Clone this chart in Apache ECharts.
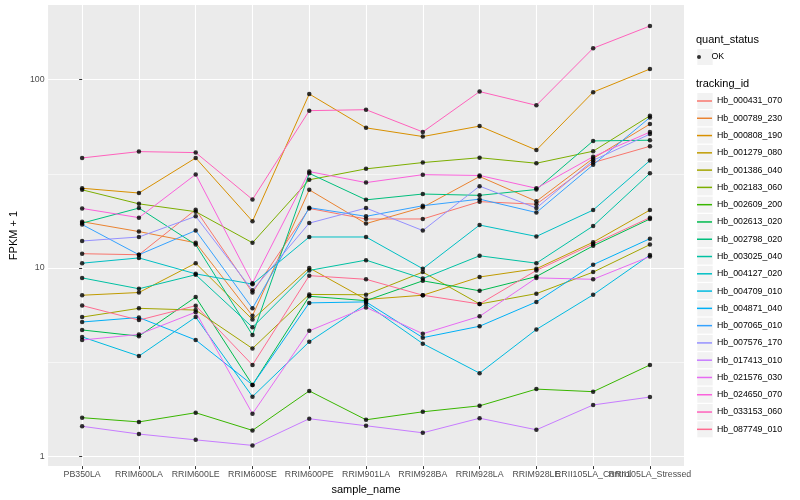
<!DOCTYPE html>
<html><head><meta charset="utf-8">
<script src="https://cdn.jsdelivr.net/npm/echarts@6/dist/echarts.min.js"></script>
<style>html,body{margin:0;padding:0;background:#fff}#c{width:800px;height:500px}</style>
</head><body><div id="c"></div>
<script>
const categories = ['PB350LA','RRIM600LA','RRIM600LE','RRIM600SE','RRIM600PE','RRIM901LA','RRIM928BA','RRIM928LA','RRIM928LE','RRII105LA_Control','RRII105LA_Stressed'];
const yTicks = [1, 10, 100];
const yMinorTicks = [3.162, 31.62];
const trackingIds = ['Hb_000431_070','Hb_000789_230','Hb_000808_190','Hb_001279_080','Hb_001386_040','Hb_002183_060','Hb_002609_200','Hb_002613_020','Hb_002798_020','Hb_003025_040','Hb_004127_020','Hb_004709_010','Hb_004871_040','Hb_007065_010','Hb_007576_170','Hb_017413_010','Hb_021576_030','Hb_024650_070','Hb_033153_060','Hb_087749_010'];
const colors = ['#F8766D','#EA8331','#D89000','#C09B00','#A3A500','#7CAE00','#39B600','#00BB4E','#00BF7D','#00C1A3','#00BFC4','#00BAE0','#00B0F6','#35A2FF','#9590FF','#C77CFF','#E76BF3','#FA62DB','#FF62BC','#FF6C91'];

const hb_000431_070 = [11.9, 11.75, 20.4, 7.4, 20.7, 18.2, 18.2, 22.5, 21.8, 36.3, 44.3];
const hb_000789_230 = [17.6, 15.6, 13.6, 5.57, 26, 17.2, 21.0, 30.6, 22.6, 38.2, 58.1];
const hb_000808_190 = [26.5, 25, 38.4, 17.7, 84, 55.5, 49.9, 56.7, 42.3, 85.9, 114];
const hb_001279_080 = [7.16, 7.4, 10.6, 5.32, 10.0, 6.8, 7.16, 8.95, 9.9, 13.7, 20.3];
const hb_001386_040 = [5.48, 6.1, 5.97, 3.73, 7.23, 7.2, 9.5, 6.43, 7.3, 9.5, 13.3];
const hb_002183_060 = [26, 21.9, 19.9, 13.6, 29.4, 33.6, 36.3, 38.5, 36, 41.7, 64.3];
const hb_002609_200 = [1.6, 1.52, 1.7, 1.37, 2.22, 1.56, 1.72, 1.85, 2.27, 2.2, 3.05];
const hb_002613_020 = [4.68, 4.34, 7.0, 2.39, 7.07, 6.7, 8.54, 7.56, 9.0, 13.1, 18.2];
const hb_002798_020 = [17.3, 20.8, 13.3, 4.4, 31.8, 23, 24.7, 24.3, 26.1, 47.3, 47.7];
const hb_003025_040 = [8.85, 7.75, 9.2, 4.84, 9.7, 11, 8.78, 11.6, 10.6, 16.7, 31.8];
const hb_004127_020 = [10.6, 11.3, 9.3, 8.2, 14.6, 14.6, 9.9, 16.9, 14.7, 20.3, 37.2];
const hb_004709_010 = [4.3, 3.4, 5.48, 2.07, 4.05, 6.43, 3.96, 2.76, 4.71, 7.2, 11.7];
const hb_004871_040 = [5.16, 5.45, 4.14, 2.39, 6.52, 6.6, 4.26, 4.9, 6.6, 10.4, 14.3];
const hb_007065_010 = [17.0, 11.75, 15.8, 6.1, 20.9, 18.8, 21.4, 23.2, 19.7, 35.3, 63];
const hb_007576_170 = [13.9, 14.6, 18.8, 7.6, 17.3, 20.8, 15.8, 27.2, 20.8, 37.3, 51.4];
const hb_017413_010 = [1.44, 1.31, 1.22, 1.14, 1.58, 1.45, 1.33, 1.59, 1.38, 1.87, 2.06];
const hb_021576_030 = [4.14, 4.43, 5.82, 1.68, 4.63, 6.17, 4.47, 5.53, 8.85, 8.7, 11.5];
const hb_024650_070 = [20.7, 18.5, 31.4, 8.3, 32.5, 28.4, 31.3, 31, 26.5, 39, 52.7];
const hb_033153_060 = [38.4, 41.5, 41, 23.1, 68.5, 69.3, 52.8, 86.5, 73.1, 147, 193];
const hb_087749_010 = [6.31, 5.28, 6.3, 3.05, 9.1, 8.7, 7.16, 6.43, 9.7, 13.4, 18.5];

const seriesValues = [hb_000431_070, hb_000789_230, hb_000808_190, hb_001279_080, hb_001386_040, hb_002183_060, hb_002609_200, hb_002613_020, hb_002798_020, hb_003025_040, hb_004127_020, hb_004709_010, hb_004871_040, hb_007065_010, hb_007576_170, hb_017413_010, hb_021576_030, hb_024650_070, hb_033153_060, hb_087749_010];

const FONT = '"Liberation Sans", Arial, Helvetica, sans-serif';
const catIdx = categories.map((c, i) => i);
const evenIdx = catIdx.filter(i => i % 2 === 0);
const oddIdx = catIdx.filter(i => i % 2 === 1);
const legendLeft = 697, rowH = 17.28, firstRow = 101, okRow = 57;

const chart = echarts.init(document.getElementById('c'), null, {renderer: 'canvas'});

const lineSeries = trackingIds.map((id, k) => ({
  type: 'line', name: id,
  data: seriesValues[k].map((v, i) => [i, v]),
  symbol: 'none', silent: true, z: 2,
  lineStyle: {width: 1, color: colors[k]},
  itemStyle: {color: colors[k]}
}));
const okPoints = [];
seriesValues.forEach(arr => arr.forEach((v, i) => okPoints.push([i, v])));

const boxes = [{id: 'OK', y: okRow}].concat(trackingIds.map((id, k) => ({id, y: firstRow + k * rowH})));
const graphics = [
  {type: 'text', left: 696, top: 34, z: 1, style: {text: 'quant_status', font: '11px ' + FONT, fill: '#000'}},
  {type: 'text', left: 696, top: 78, z: 1, style: {text: 'tracking_id', font: '11px ' + FONT, fill: '#000'}}
].concat(boxes.map(b => ({
  type: 'rect', z: 0, silent: true,
  shape: {x: 697.3, y: b.y - 8, width: 15.4, height: 16},
  style: {fill: '#F2F2F2'}
})));

const xLabelStyle = {color: '#4D4D4D', fontSize: 8.8, margin: 4, fontFamily: FONT,
  showMinLabel: true, showMaxLabel: true, hideOverlap: false,
  formatter: v => categories[Math.round(v)]};

chart.setOption({
  animation: false,
  backgroundColor: '#fff',
  textStyle: {fontFamily: FONT},
  grid: {left: 40, right: 116, top: 5, bottom: 32, show: true, backgroundColor: '#EBEBEB', borderWidth: 0},
  xAxis: [{
    type: 'value', min: -0.6, max: 10.6, position: 'bottom',
    axisLine: {show: false},
    axisTick: {show: true, customValues: catIdx, length: 3, lineStyle: {color: '#333', width: 1}},
    axisLabel: Object.assign({customValues: evenIdx}, xLabelStyle),
    splitLine: {show: true, lineStyle: {color: '#fff', width: 1.1}},
    name: 'sample_name', nameLocation: 'middle', nameGap: 14,
    nameTextStyle: {color: '#000', fontSize: 11, fontFamily: FONT}
  }, {
    type: 'value', min: -0.6, max: 10.6, position: 'bottom',
    axisLine: {show: false},
    axisTick: {show: false, customValues: oddIdx},
    axisLabel: Object.assign({customValues: oddIdx}, xLabelStyle),
    splitLine: {show: false}
  }],
  yAxis: [{
    type: 'log', logBase: 10, min: 0.885, max: 249.5,
    axisLine: {show: false},
    axisTick: {show: true, customValues: yTicks, length: 3, lineStyle: {color: '#333', width: 1}},
    axisLabel: {customValues: yTicks, showMinLabel: true, showMaxLabel: true,
      formatter: v => String(Math.round(v)), color: '#4D4D4D', fontSize: 8.8, margin: 3.5, fontFamily: FONT},
    splitLine: {show: true, lineStyle: {color: '#fff', width: 1.1}},
    name: 'FPKM + 1', nameLocation: 'middle', nameGap: 22,
    nameTextStyle: {color: '#000', fontSize: 11, fontFamily: FONT}
  }, {
    type: 'log', logBase: 10, min: 0.885, max: 249.5, position: 'left',
    axisLine: {show: false},
    axisTick: {show: false, customValues: yMinorTicks},
    axisLabel: {show: false, customValues: yMinorTicks},
    splitLine: {show: true, lineStyle: {color: '#fff', width: 0.55}}
  }],
  legend: [{
    data: ['OK'], orient: 'vertical', left: legendLeft, top: okRow - rowH / 2, padding: 0,
    itemWidth: 15, itemHeight: 4, icon: 'circle', itemGap: 0, selectedMode: false,
    textStyle: {fontSize: 8.8, lineHeight: rowH, color: '#000', fontFamily: FONT}
  }, {
    data: trackingIds, orient: 'vertical', left: legendLeft, top: firstRow - rowH / 2, padding: 0,
    itemWidth: 15, itemHeight: 1.5, icon: 'rect', itemGap: 0, selectedMode: false,
    textStyle: {fontSize: 8.8, lineHeight: rowH, color: '#000', fontFamily: FONT}
  }],
  graphic: graphics,
  series: lineSeries.concat([{
    type: 'scatter', name: 'OK', data: okPoints, symbol: 'circle', symbolSize: 4.5, silent: true, z: 3,
    itemStyle: {color: '#000'}
  }])
});
</script></body></html>
